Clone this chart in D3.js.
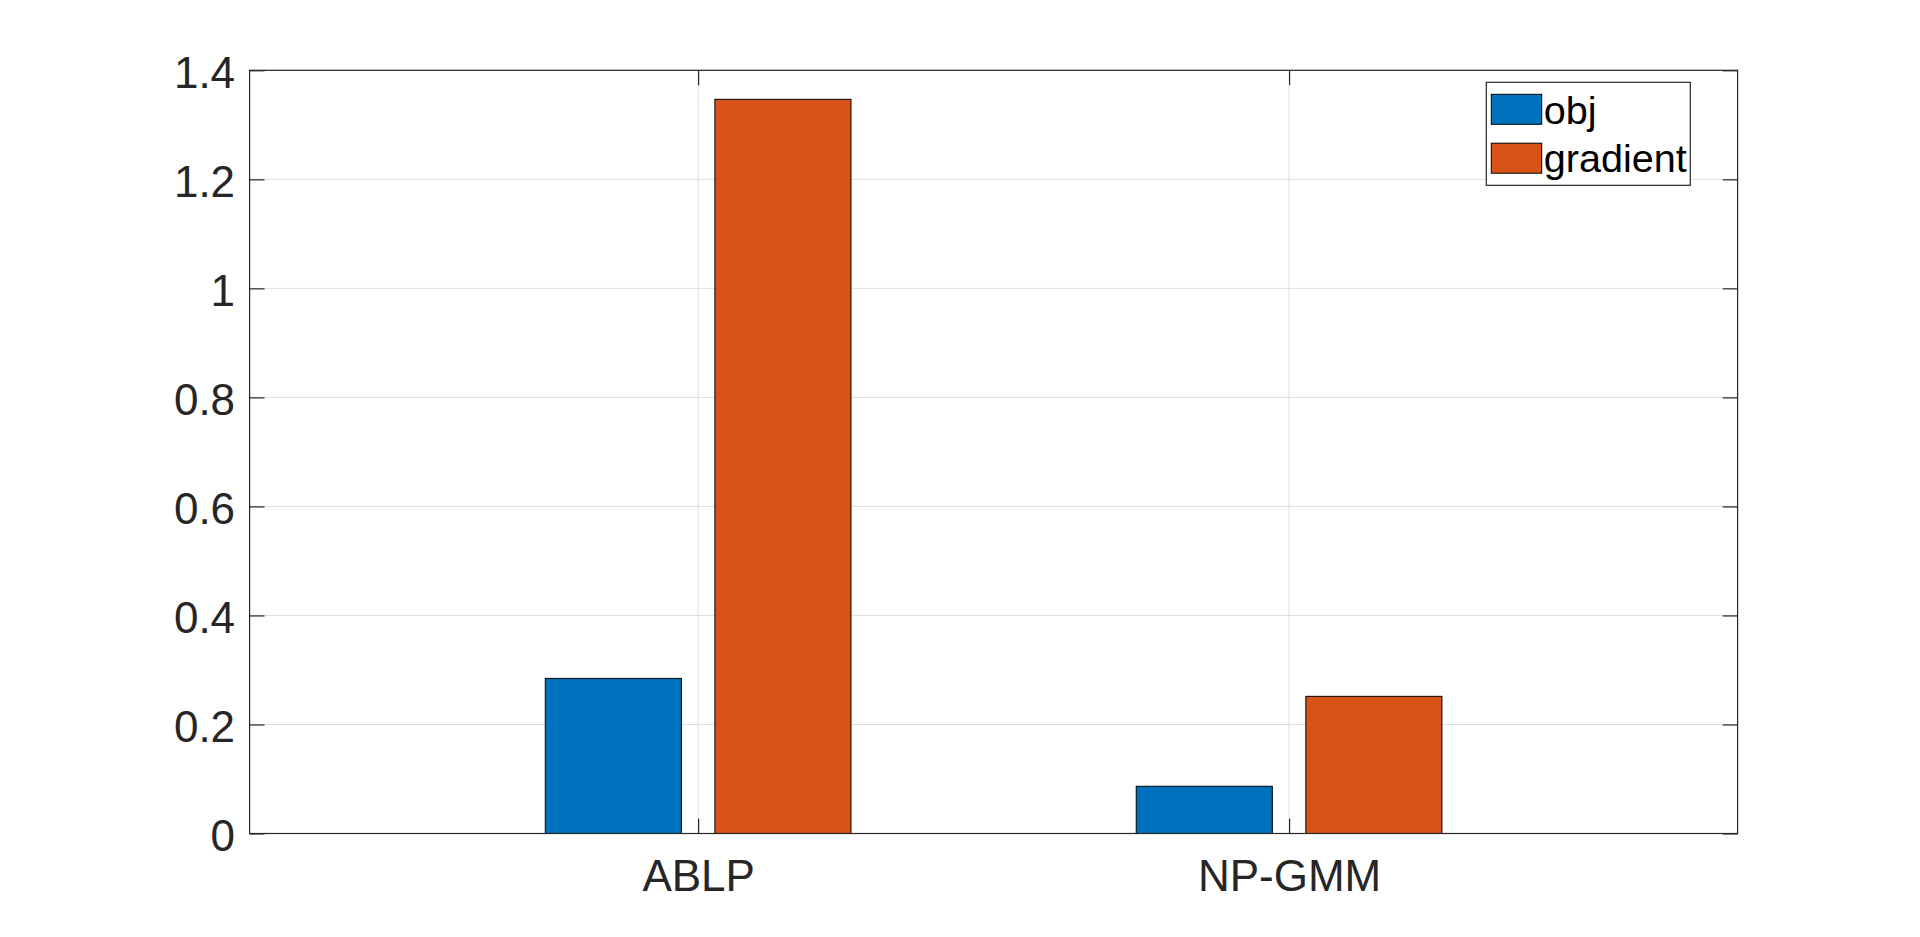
<!DOCTYPE html>
<html>
<head>
<meta charset="utf-8">
<script src="https://cdn.jsdelivr.net/npm/d3@7"></script>
<style>
  html, body { margin: 0; padding: 0; background: #fff; }
  svg { display: block; }
  text { font-family: "Liberation Sans", Arial, Helvetica, sans-serif; }
</style>
</head>
<body>
<svg id="chart" width="1920" height="937"></svg>
<script>
const categories = ["ABLP", "NP-GMM"];
const seriesNames = ["obj", "gradient"];
const objValues = [0.2845, 0.0866];
const gradientValues = [1.3468, 0.2516];
const yTicks = [0, 0.2, 0.4, 0.6, 0.8, 1, 1.2, 1.4];
const yTickLabels = ["0", "0.2", "0.4", "0.6", "0.8", "1", "1.2", "1.4"];
const seriesColors = ["#0072BD", "#D95319"];

const series = [objValues, gradientValues];

const svg = d3.select("#chart");
const L = 249.6, R = 1737.6, T = 70.3, B = 833.5;

const x = d3.scaleLinear().domain([0.241, 2.759]).range([L, R]);
const y = d3.scaleLinear().domain([0, 1.4]).range([B, T]);

const axisColor = "#262626";
const gridColor = "#dedede";
const tickLen = 14.9;

// background
svg.append("rect").attr("x", 0).attr("y", 0).attr("width", 1920).attr("height", 937).attr("fill", "#fff");

// grid
const grid = svg.append("g");
yTicks.forEach(v => {
  grid.append("line")
    .attr("x1", L).attr("x2", R)
    .attr("y1", y(v)).attr("y2", y(v))
    .attr("stroke", gridColor).attr("stroke-width", 1);
});
categories.forEach((c, i) => {
  grid.append("line")
    .attr("x1", x(i + 1)).attr("x2", x(i + 1))
    .attr("y1", T).attr("y2", B)
    .attr("stroke", gridColor).attr("stroke-width", 1);
});

// bars
const offsets = [-0.1435, 0.1435];
const barW = 0.2303;
series.forEach((vals, s) => {
  svg.append("g").selectAll("rect").data(vals).join("rect")
    .attr("x", (d, i) => x(i + 1 + offsets[s] - barW / 2))
    .attr("width", x(barW) - x(0))
    .attr("y", d => y(d))
    .attr("height", d => y(0) - y(d))
    .attr("fill", seriesColors[s])
    .attr("stroke", "#000")
    .attr("stroke-width", 1);
});

// axes box
svg.append("rect")
  .attr("x", L).attr("y", T).attr("width", R - L).attr("height", B - T)
  .attr("fill", "none").attr("stroke", axisColor).attr("stroke-width", 1.2);

// y axis (left) with D3 axis, inward ticks
const yAxisL = d3.axisLeft(y).tickValues(yTicks).tickFormat((d, i) => yTickLabels[i]).tickSizeInner(-tickLen).tickSizeOuter(0).tickPadding(14.5);
const gyl = svg.append("g").attr("transform", `translate(${L},0)`).call(yAxisL);
gyl.select(".domain").remove();
gyl.selectAll(".tick line").attr("stroke", axisColor).attr("stroke-width", 1.2);
gyl.selectAll(".tick text")
  .attr("fill", axisColor)
  .attr("font-size", "44px")
  .attr("font-family", "'Liberation Sans', Arial, sans-serif")
  .attr("dy", "0.38em");

// y ticks (right)
const yAxisR = d3.axisRight(y).tickValues(yTicks).tickFormat("").tickSizeInner(-tickLen).tickSizeOuter(0);
const gyr = svg.append("g").attr("transform", `translate(${R},0)`).call(yAxisR);
gyr.select(".domain").remove();
gyr.selectAll(".tick line").attr("stroke", axisColor).attr("stroke-width", 1.2);

// x axis bottom
const xAxisB = d3.axisBottom(x).tickValues([1, 2]).tickFormat((d, i) => categories[i]).tickSizeInner(-tickLen).tickSizeOuter(0).tickPadding(25.9);
const gxb = svg.append("g").attr("transform", `translate(0,${B})`).call(xAxisB);
gxb.select(".domain").remove();
gxb.selectAll(".tick line").attr("stroke", axisColor).attr("stroke-width", 1.2);
gxb.selectAll(".tick text")
  .attr("fill", axisColor)
  .attr("font-size", "44px")
  .attr("font-family", "'Liberation Sans', Arial, sans-serif");

// x ticks top
const xAxisT = d3.axisTop(x).tickValues([1, 2]).tickFormat("").tickSizeInner(-tickLen).tickSizeOuter(0);
const gxt = svg.append("g").attr("transform", `translate(0,${T})`).call(xAxisT);
gxt.select(".domain").remove();
gxt.selectAll(".tick line").attr("stroke", axisColor).attr("stroke-width", 1.2);

// legend
const lg = svg.append("g");
const lgX = 1486.3, lgY = 82.3, lgW = 204, lgH = 103;
lg.append("rect").attr("x", lgX).attr("y", lgY).attr("width", lgW).attr("height", lgH)
  .attr("fill", "#fff").attr("stroke", axisColor).attr("stroke-width", 1.2);
seriesNames.forEach((name, i) => {
  const rowY = lgY + 12 + i * 48.9;
  lg.append("rect").attr("x", lgX + 5).attr("y", rowY).attr("width", 50.4).attr("height", 30)
    .attr("fill", seriesColors[i]).attr("stroke", "#000").attr("stroke-width", 1);
  lg.append("text").attr("x", lgX + 57.5).attr("y", rowY + 29.2)
    .attr("font-size", "39.6px").attr("fill", "#000").text(name);
});
</script>
</body>
</html>
